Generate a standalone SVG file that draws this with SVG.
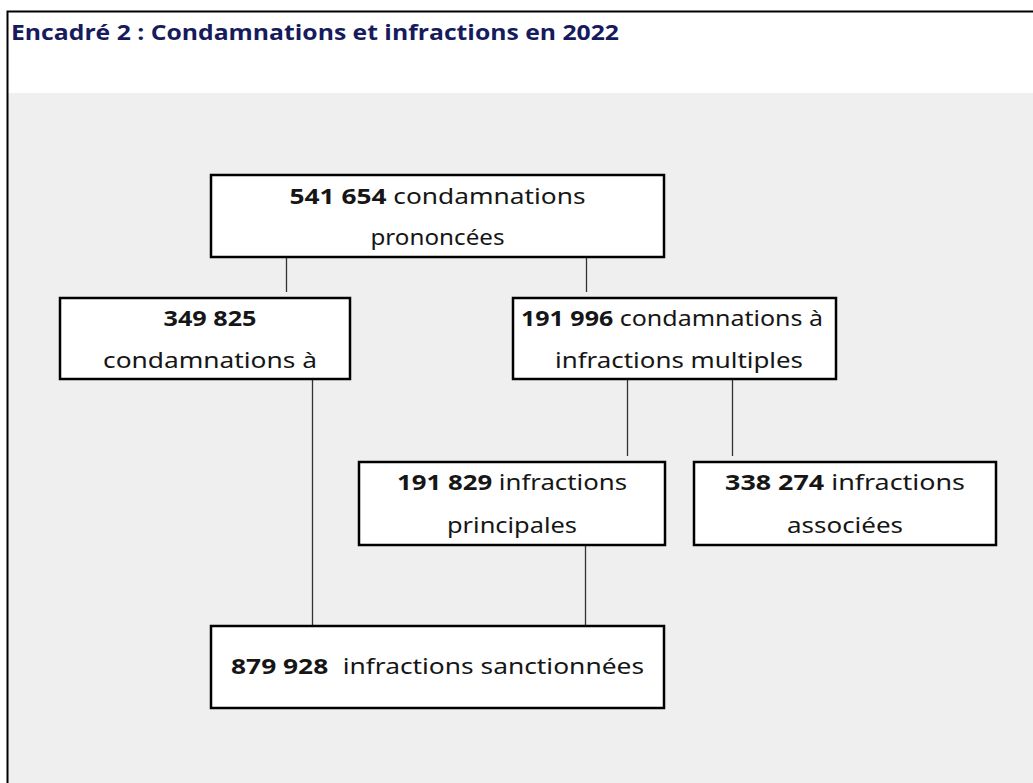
<svg xmlns="http://www.w3.org/2000/svg" width="1033" height="783" viewBox="0 0 1033 783">
<style>
.box{fill:#ffffff;stroke:#000000;stroke-width:2.5}
.conn{stroke:#333333;stroke-width:1.3;fill:none}
.t{font-family:"Noto Sans","Open Sans",sans-serif;font-size:21px;fill:#161616;text-anchor:middle;font-variant-ligatures:none}
.b{font-weight:bold}
.title{font-family:"Open Sans","Noto Sans",sans-serif;font-size:21px;font-weight:bold;fill:#161b5e}
</style>
<rect x="0" y="0" width="1033" height="783" fill="#ffffff"/>
<rect x="8" y="93" width="1025" height="690" fill="#efefef"/>
<path d="M7.5,783 V11.5 H1033" fill="none" stroke="#000000" stroke-width="2"/>
<text class="title" x="11" y="40" textLength="608" lengthAdjust="spacingAndGlyphs">Encadré 2 : Condamnations et infractions en 2022</text>
<g id="connectors">
<line class="conn" x1="286.5" y1="257" x2="286.5" y2="292"/>
<line class="conn" x1="586.5" y1="257" x2="586.5" y2="292"/>
<line class="conn" x1="312.5" y1="379" x2="312.5" y2="626"/>
<line class="conn" x1="627.5" y1="379" x2="627.5" y2="456"/>
<line class="conn" x1="732.5" y1="379" x2="732.5" y2="456"/>
<line class="conn" x1="585.5" y1="545" x2="585.5" y2="626"/>
</g>
<g id="n1">
<rect class="box" x="211" y="175" width="453" height="82"/>
<text class="t" x="437.5" y="204" textLength="296" lengthAdjust="spacingAndGlyphs"><tspan class="b">541 654</tspan> condamnations</text>
<text class="t" x="437.5" y="245" textLength="134" lengthAdjust="spacingAndGlyphs">prononcées</text>
</g>
<g id="n2">
<rect class="box" x="60" y="298" width="290" height="81"/>
<text class="t b" x="210" y="326" textLength="93" lengthAdjust="spacingAndGlyphs">349 825</text>
<text class="t" x="210" y="368" textLength="214" lengthAdjust="spacingAndGlyphs">condamnations à</text>
</g>
<g id="n3">
<rect class="box" x="513" y="298" width="323" height="81"/>
<text class="t" x="672" y="326" textLength="302" lengthAdjust="spacingAndGlyphs"><tspan class="b">191 996</tspan> condamnations à</text>
<text class="t" x="679" y="368" textLength="248" lengthAdjust="spacingAndGlyphs">infractions multiples</text>
</g>
<g id="n4">
<rect class="box" x="359" y="462" width="306" height="83"/>
<text class="t" x="512" y="490" textLength="230" lengthAdjust="spacingAndGlyphs"><tspan class="b">191 829</tspan> infractions</text>
<text class="t" x="512" y="533" textLength="130" lengthAdjust="spacingAndGlyphs">principales</text>
</g>
<g id="n5">
<rect class="box" x="694" y="462" width="302" height="83"/>
<text class="t" x="845" y="490" textLength="240" lengthAdjust="spacingAndGlyphs"><tspan class="b">338 274</tspan> infractions</text>
<text class="t" x="845" y="533" textLength="116" lengthAdjust="spacingAndGlyphs">associées</text>
</g>
<g id="n6">
<rect class="box" x="211" y="626" width="453" height="82"/>
<text class="t" x="437.5" y="674" textLength="413" lengthAdjust="spacingAndGlyphs"><tspan class="b">879 928</tspan><tspan dx="6"> infractions sanctionnées</tspan></text>
</g>
</svg>
